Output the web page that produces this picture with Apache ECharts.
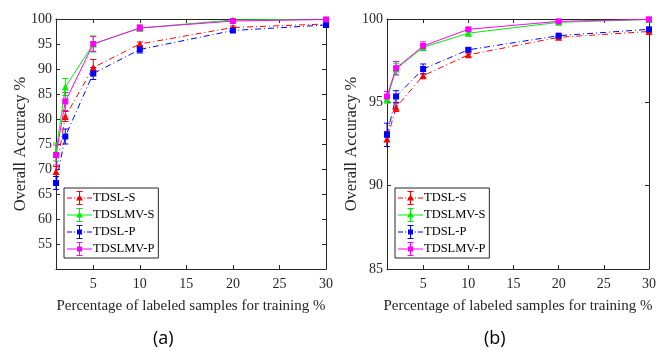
<!DOCTYPE html>
<html>
<head>
<meta charset="utf-8">
<script src="https://cdn.jsdelivr.net/npm/echarts@6/dist/echarts.min.js"></script>
<style>
  html, body { margin: 0; padding: 0; background: #fff; }
  #chart { width: 659px; height: 351px; }
</style>
</head>
<body>
<div id="chart"></div>
<script>
// x positions (percentage of labeled samples)
const xValues = [1, 2, 5, 10, 20, 30];
const xTicks = [5, 10, 15, 20, 25, 30];
const seriesNames = ['TDSL-S', 'TDSLMV-S', 'TDSL-P', 'TDSLMV-P'];

// panel (a)
const aTdslS = [69.5, 80.5, 90.3, 95.0, 98.3, 99.0];
const aTdslSErr = [1.0, 1.0, 1.6, 0.4, 0.3, 0.2];
const aTdslmvS = [73.4, 86.4, 95.0, 98.2, 99.8, 100.0];
const aTdslmvSErr = [1.8, 1.7, 1.6, 0.6, 0.3, 0.1];
const aTdslP = [67.2, 76.5, 89.1, 93.9, 97.7, 98.8];
const aTdslPErr = [1.3, 1.5, 1.2, 0.7, 0.3, 0.2];
const aTdslmvP = [72.8, 83.5, 95.0, 98.2, 99.6, 99.9];
const aTdslmvPErr = [2.0, 1.8, 1.5, 0.6, 0.3, 0.1];

// panel (b)
const bTdslS = [92.8, 94.7, 96.6, 97.85, 98.9, 99.25];
const bTdslSErr = [0.45, 0.25, 0.12, 0.1, 0.05, 0.05];
const bTdslmvS = [95.2, 97.0, 98.3, 99.15, 99.8, 99.97];
const bTdslmvSErr = [0.25, 0.35, 0.2, 0.1, 0.05, 0.02];
const bTdslP = [93.05, 95.35, 97.0, 98.15, 99.0, 99.38];
const bTdslPErr = [0.7, 0.35, 0.3, 0.1, 0.05, 0.05];
const bTdslmvP = [95.35, 97.05, 98.38, 99.38, 99.86, 99.98];
const bTdslmvPErr = [0.3, 0.4, 0.25, 0.1, 0.05, 0.02];

const colors = ['#ff0000', '#00ee00', '#0000ff', '#ff00ff'];
const symbols = ['triangle', 'triangle', 'rect', 'rect'];
const dashDot = [6, 3, 1, 3];
const lineTypes = [dashDot, 'solid', dashDot, 'solid'];
const serif = '"Liberation Serif", "DejaVu Serif", serif';
const axisColor = '#262626';

const panels = [
  { vals: [aTdslS, aTdslmvS, aTdslP, aTdslmvP], errs: [aTdslSErr, aTdslmvSErr, aTdslPErr, aTdslmvPErr] },
  { vals: [bTdslS, bTdslmvS, bTdslP, bTdslmvP], errs: [bTdslSErr, bTdslmvSErr, bTdslPErr, bTdslmvPErr] }
];

// legend icons: line + error bar + marker, drawn as filled path (25 x 14 box)
const barPath = 'M12 0H13V14H12Z M9.5 0H15.5V1H9.5Z M9.5 13H15.5V14H9.5Z';
const solidPath = 'M0 6.5H25V7.5H0Z';
const dashPath = 'M0 6.5H5V7.5H0Z M7 6.5H8V7.5H7Z M10 6.5H15V7.5H10Z M17 6.5H18V7.5H17Z M20 6.5H25V7.5H20Z';
const triPath = 'M12.5 3.5L16 9.5L9 9.5Z';
const sqPath = 'M10 4.5H15V9.5H10Z';
const legendIcons = [
  'path://' + dashPath + ' ' + barPath + ' ' + triPath,
  'path://' + solidPath + ' ' + barPath + ' ' + triPath,
  'path://' + dashPath + ' ' + barPath + ' ' + sqPath,
  'path://' + solidPath + ' ' + barPath + ' ' + sqPath
];

function errorBars(api) {
  const x = api.value(0);
  const lo = api.coord([x, api.value(1)]);
  const hi = api.coord([x, api.value(2)]);
  const cap = 3;
  const style = { stroke: api.visual('color'), lineWidth: 1 };
  return {
    type: 'group',
    children: [
      { type: 'line', shape: { x1: lo[0], y1: lo[1], x2: hi[0], y2: hi[1] }, style: style },
      { type: 'line', shape: { x1: lo[0] - cap, y1: lo[1], x2: lo[0] + cap, y2: lo[1] }, style: style },
      { type: 'line', shape: { x1: hi[0] - cap, y1: hi[1], x2: hi[0] + cap, y2: hi[1] }, style: style }
    ]
  };
}

const grids = [
  { left: 56, width: 270, top: 19, height: 250 },
  { left: 387, width: 270, top: 19, height: 250 }
];
const yRanges = [
  { min: 50, max: 100, interval: 5 },
  { min: 85, max: 100, interval: 5 }
];

const xAxes = [], yAxes = [], series = [];
grids.forEach((g, i) => {
  // bottom and top x axes
  xAxes.push({
    gridIndex: i, type: 'value', min: 1, max: 30, position: 'bottom',
    name: 'Percentage of labeled samples for training %',
    nameLocation: 'middle', nameGap: 30,
    nameTextStyle: { fontFamily: serif, fontSize: 15, color: axisColor },
    axisLine: { lineStyle: { color: axisColor } },
    axisTick: { inside: true, length: 4, customValues: xTicks, lineStyle: { color: axisColor } },
    axisLabel: { customValues: xTicks, fontFamily: serif, fontSize: 14, color: axisColor, margin: 8, showMaxLabel: true },
    splitLine: { show: false }
  });
  xAxes.push({
    gridIndex: i, type: 'value', min: 1, max: 30, position: 'top',
    axisLine: { lineStyle: { color: axisColor } },
    axisTick: { inside: true, length: 4, customValues: xTicks, lineStyle: { color: axisColor } },
    axisLabel: { show: false },
    splitLine: { show: false }
  });
  const r = yRanges[i];
  yAxes.push({
    gridIndex: i, type: 'value', min: r.min, max: r.max, interval: r.interval, position: 'left',
    name: 'Overall Accuracy %', nameLocation: 'middle', nameGap: 27, nameMoveOverlap: false,
    nameTextStyle: { fontFamily: serif, fontSize: 16.5, color: axisColor },
    axisLine: { show: true, lineStyle: { color: axisColor } },
    axisTick: { inside: true, length: 4, lineStyle: { color: axisColor } },
    axisLabel: {
      fontFamily: serif, fontSize: 14, color: axisColor, margin: 4,
      formatter: v => (i === 0 && v === 50) ? '' : String(v)
    },
    splitLine: { show: false }
  });
  yAxes.push({
    gridIndex: i, type: 'value', min: r.min, max: r.max, interval: r.interval, position: 'right',
    axisLine: { show: true, lineStyle: { color: axisColor } },
    axisTick: { inside: true, length: 4, lineStyle: { color: axisColor } },
    axisLabel: { show: false },
    splitLine: { show: false }
  });

  const p = panels[i];
  seriesNames.forEach((name, k) => {
    series.push({
      name: name, type: 'custom', xAxisIndex: i * 2, yAxisIndex: i * 2,
      itemStyle: { color: colors[k] }, renderItem: (params, api) => errorBars(api),
      data: xValues.map((x, j) => [x, p.vals[k][j] - p.errs[k][j], p.vals[k][j] + p.errs[k][j]]),
      z: 2, silent: true
    });
    series.push({
      name: name, type: 'line', xAxisIndex: i * 2, yAxisIndex: i * 2,
      symbol: symbols[k], symbolSize: k < 2 ? 7 : 6,
      itemStyle: { color: colors[k] },
      lineStyle: { color: colors[k], width: 1, type: lineTypes[k] },
      data: xValues.map((x, j) => [x, p.vals[k][j]]),
      z: 3, animation: false
    });
  });
});

const legends = [64, 395].map(left => ({
  data: seriesNames.map((n, k) => ({ name: n, icon: legendIcons[k] })),
  orient: 'vertical', left: left, top: 188,
  itemWidth: 25, itemHeight: 14, itemGap: 3,
  padding: [3, 4, 2, 3],
  borderColor: '#262626', borderWidth: 1, backgroundColor: '#fff',
  itemStyle: { borderWidth: 0 },
  textStyle: { fontFamily: serif, fontSize: 12.5, color: '#000', padding: [0, 0, 0, -4] },
  selectedMode: false
}));

const chart = echarts.init(document.getElementById('chart'), null, { renderer: 'canvas' });
chart.setOption({
  animation: false,
  grid: grids,
  xAxis: xAxes,
  yAxis: yAxes,
  legend: legends,
  series: series,
  graphic: [
    { type: 'text', left: 153, top: 330, style: { text: '(a)', font: '18px "Open Sans", sans-serif', fill: '#000' } },
    { type: 'text', left: 484, top: 330, style: { text: '(b)', font: '18px "Open Sans", sans-serif', fill: '#000' } }
  ]
});
</script>
</body>
</html>
